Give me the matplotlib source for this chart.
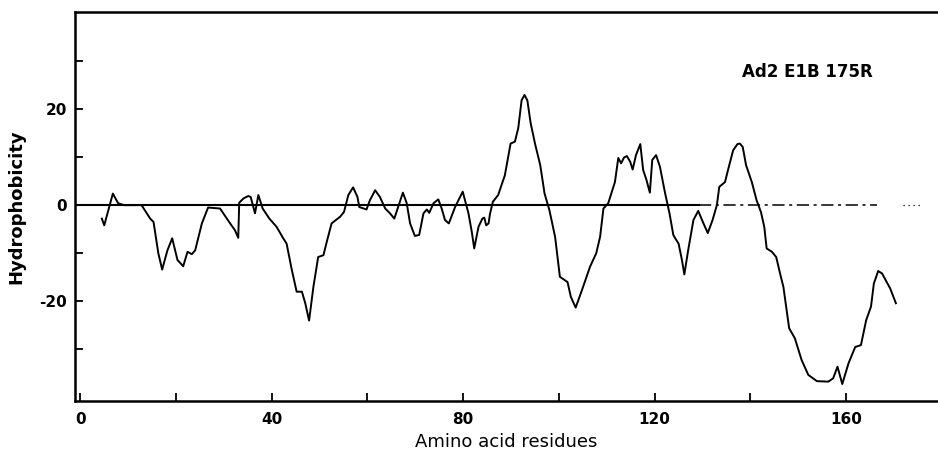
import matplotlib
matplotlib.use("Agg")
import matplotlib.pyplot as plt

# Hydrophobicity profile of Ad2 E1B 175R (residue position, hydrophobicity)
residues = [
    4.5, 5.0, 6.8, 7.9, 9.1, 12.8, 14.6, 15.3, 16.3, 17.1, 18.2, 19.2, 20.3,
    21.5, 22.4, 23.3, 24.0, 25.4, 26.7, 29.2, 31.3, 32.3, 33.0, 33.2, 34.1,
    35.1, 35.6, 36.5, 37.2, 38.1, 39.5, 41.0, 42.4, 43.1, 44.2, 45.2, 46.3,
    47.0, 47.8, 48.7, 49.7, 50.8, 51.5, 52.5, 54.3, 55.1, 56.0, 57.0, 57.9,
    58.3, 59.8, 60.5, 61.6, 62.6, 63.7, 64.7, 65.6, 66.4, 67.4, 68.2, 68.9,
    69.9, 70.8, 71.7, 72.4, 72.9, 73.8, 74.8, 75.5, 76.2, 77.0, 78.3, 79.9,
    81.1, 81.8, 82.3, 83.2, 84.0, 84.4, 84.8, 85.3, 85.6, 86.2, 87.3, 88.7,
    89.9, 90.8, 91.5, 92.2, 92.8, 93.4, 94.1, 95.0, 96.1, 97.0, 98.0, 99.2,
    100.2, 101.8, 102.5, 103.5, 104.8, 106.5, 107.8, 108.6, 109.3, 110.3,
    111.7, 112.4, 113.0, 113.6, 114.2, 114.9, 115.4, 116.1, 117.0, 117.6,
    118.3, 119.0, 119.5, 120.3, 121.1, 122.2, 123.1, 123.9, 124.3, 125.0,
    125.7, 126.2, 127.0, 128.1, 129.1, 130.2, 131.1, 132.1, 133.0, 133.5,
    134.7, 135.4, 136.4, 137.3, 137.8, 138.4, 139.1, 140.3, 141.3, 142.2,
    142.9, 143.4, 144.5, 145.4, 146.2, 146.9, 148.1, 149.3, 150.7, 152.1,
    153.9, 156.3, 157.3, 158.2, 159.2, 160.5, 161.9, 163.1, 164.2, 165.2,
    165.8, 166.7, 167.5, 169.2, 170.4,
]
hydrophobicity = [
    -2.8, -4.2, 2.4, 0.4, 0.0, 0.0, -2.8, -3.5, -10.0, -13.4, -9.4, -6.9,
    -11.4, -12.7, -9.7, -10.2, -9.4, -3.8, -0.5, -0.7, -3.8, -5.2, -6.8, 0.5,
    1.4, 1.9, 1.7, -1.7, 2.1, -0.7, -2.8, -4.5, -6.9, -8.0, -13.5, -18.0,
    -18.0, -20.4, -24.0, -17.0, -10.8, -10.4, -7.6, -3.8, -2.4, -1.4, 2.1,
    3.7, 1.7, -0.4, -0.9, 1.0, 3.1, 1.7, -0.7, -1.7, -2.8, -0.4, 2.6, 0.4,
    -3.8, -6.4, -6.2, -1.7, -0.9, -1.6, 0.4, 1.2, -0.7, -3.1, -3.8, -0.4,
    2.8, -1.7, -5.6, -9.0, -4.5, -2.8, -2.6, -4.2, -3.8, -1.8, 0.7, 2.1, 6.2,
    12.8, 13.2, 16.0, 21.8, 22.9, 21.8, 17.0, 12.8, 8.3, 2.4, -1.0, -6.6,
    -14.9, -16.0, -19.1, -21.3, -17.7, -12.8, -10.0, -6.6, -0.7, 0.4, 4.8,
    9.8, 8.7, 9.9, 10.2, 9.0, 7.4, 10.4, 12.7, 7.3, 5.2, 2.6, 9.4, 10.4,
    8.0, 2.4, -1.7, -6.2, -6.9, -8.0, -11.4, -14.4, -9.4, -3.1, -1.2, -3.8,
    -5.8, -3.1, 0.0, 3.8, 4.8, 7.6, 11.4, 12.7, 12.8, 12.1, 8.3, 4.8, 1.0,
    -1.4, -4.5, -9.0, -9.7, -10.8, -14.2, -17.0, -25.6, -27.7, -32.2, -35.3,
    -36.6, -36.7, -36.0, -33.6, -37.2, -32.9, -29.5, -29.1, -23.9, -21.1,
    -16.3, -13.7, -14.2, -17.3, -20.4,
]

x_ticks = [0, 20, 40, 60, 80, 100, 120, 140, 160]
x_tick_labels = ["0", "", "40", "", "80", "", "120", "", "160"]
y_ticks = [-30, -20, -10, 0, 10, 20, 30]
y_tick_labels = ["", "-20", "", "0", "", "20", ""]

# the zero reference line is solid up to here, then broken
solid_end = 129.3
dashed_end = 166.5
dotted_span = (171.9, 176.0)


def draw_profile(ax):
    ax.plot([-2, solid_end], [0, 0], color="black", lw=1.5)
    ax.plot([solid_end, dashed_end], [0, 0], color="black", lw=1.1,
            linestyle=(0, (8, 3, 2, 3)))
    ax.plot(dotted_span, [0, 0], color="black", lw=0.9, linestyle=(0, (1, 3)))
    ax.plot(residues, hydrophobicity, color="black", lw=1.4,
            solid_joinstyle="round")


def style_axes(ax):
    ax.set_xlim(-1.1, 179.2)
    ax.set_ylim(-40.75, 40.1)
    ax.spines["right"].set_visible(False)
    for side in ("left", "top", "bottom"):
        ax.spines[side].set_linewidth(1.8)

    ax.set_xticks(x_ticks)
    ax.set_xticklabels(x_tick_labels, fontsize=11, fontweight="bold")
    ax.set_yticks(y_ticks)
    ax.set_yticklabels(y_tick_labels, fontsize=11, fontweight="bold")
    ax.tick_params(axis="both", direction="in", length=6, width=1.3)
    ax.tick_params(axis="x", pad=8)
    ax.tick_params(axis="y", pad=6)

    ax.set_xlabel("Amino acid residues", fontsize=13, labelpad=4)
    ax.set_ylabel("Hydrophobicity", fontsize=13, fontweight="bold", labelpad=10)
    ax.text(138.3, 27.6, "Ad2 E1B 175R", fontsize=12, fontweight="bold",
            ha="left", va="center")


def main():
    fig = plt.figure(figsize=(9.38, 4.73), dpi=100)
    ax = fig.add_axes([0.080, 0.152, 0.920, 0.822])
    draw_profile(ax)
    style_axes(ax)
    fig.savefig("out.png", dpi=100)


if __name__ == "__main__":
    main()
